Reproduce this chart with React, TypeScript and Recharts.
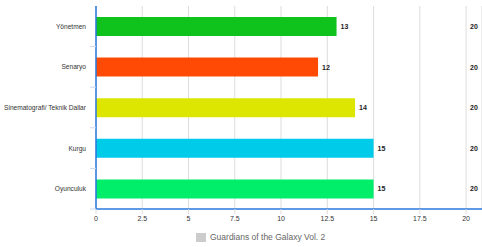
import { BarChart, Bar, XAxis, YAxis, CartesianGrid, Legend, Cell, LabelList } from 'recharts';

const categories = ['Yönetmen', 'Senaryo', 'Sinematografi/ Teknik Dallar', 'Kurgu', 'Oyunculuk'];
const scores = [13, 12, 14, 15, 15];
const maxScores = [20, 20, 20, 20, 20];
const barColors = ['#0fc21c', '#ff4a05', '#dde600', '#00cbe9', '#00ee6a'];
const xTicks = [0, 2.5, 5, 7.5, 10, 12.5, 15, 17.5, 20];
const seriesName = 'Guardians of the Galaxy Vol. 2';

const chartData = categories.map((name, i) => ({
  name,
  score: scores[i],
  max: maxScores[i],
}));

const FONT = '"Liberation Sans", Arial, sans-serif';
const AXIS_BLUE = '#2a78de';
const PLOT_H = 203;
const HALF_BAND = PLOT_H / categories.length / 2;

const CategoryTick = (props: any) => {
  const { x, y, payload } = props;
  return (
    <g>
      <line x1={x} x2={x + 6} y1={y + HALF_BAND} y2={y + HALF_BAND} stroke="#c9d8ee" />
      <text x={x - 4} y={y} dy={2.5} textAnchor="end" fontSize={6.6} fill="#333" fontFamily={FONT}>
        {payload.value}
      </text>
    </g>
  );
};

const LegendContent = () => (
  <div style={{ paddingLeft: 196, paddingTop: 7, display: 'flex', alignItems: 'center', fontFamily: FONT }}>
    <span style={{ width: 10, height: 9, background: '#cccccc', display: 'inline-block', marginRight: 4 }} />
    <span style={{ fontSize: 8.5, color: '#666', lineHeight: '10px' }}>{seriesName}</span>
  </div>
);

const App = () => {
  return (
    <div style={{ position: 'absolute', left: 0, top: 0 }}>
      <BarChart
        width={482}
        height={247}
        data={chartData}
        layout="vertical"
        margin={{ top: 6, right: 0, bottom: 0, left: 0 }}
      >
        <CartesianGrid horizontal={false} stroke="#dddddd" />
        <XAxis
          type="number"
          domain={[0, 20.86]}
          ticks={xTicks}
          allowDataOverflow
          height={16}
          tickSize={5}
          tickMargin={2}
          tickLine={{ stroke: '#dddddd' }}
          axisLine={{ stroke: AXIS_BLUE, strokeWidth: 1.5 }}
          tick={{ fontSize: 7, fill: '#333', fontFamily: FONT }}
        />
        <XAxis
          xAxisId="top"
          orientation="top"
          type="number"
          domain={[0, 20.86]}
          height={0}
          tick={false}
          tickLine={false}
          axisLine={{ stroke: AXIS_BLUE, strokeWidth: 1.5 }}
        />
        <YAxis
          type="category"
          dataKey="name"
          width={96}
          tickSize={0}
          tickMargin={6}
          tickLine={false}
          axisLine={{ stroke: AXIS_BLUE, strokeWidth: 1.5 }}
          tick={<CategoryTick />}
        />
        <YAxis yAxisId="max" type="category" dataKey="name" hide />
        <Legend verticalAlign="bottom" height={22} content={<LegendContent />} />
        <Bar dataKey="score" name={seriesName} barSize={19} isAnimationActive={false}>
          {chartData.map((d, i) => (
            <Cell key={d.name} fill={barColors[i]} />
          ))}
          <LabelList dataKey="score" position="right" offset={4} fontSize={7} fontWeight="bold" fill="#222" fontFamily={FONT} />
        </Bar>
        <Bar dataKey="max" yAxisId="max" barSize={19} fill="none" legendType="none" isAnimationActive={false}>
          <LabelList dataKey="max" position="right" offset={4} fontSize={7} fontWeight="bold" fill="#222" fontFamily={FONT} />
        </Bar>
      </BarChart>
    </div>
  );
};

export default App;
